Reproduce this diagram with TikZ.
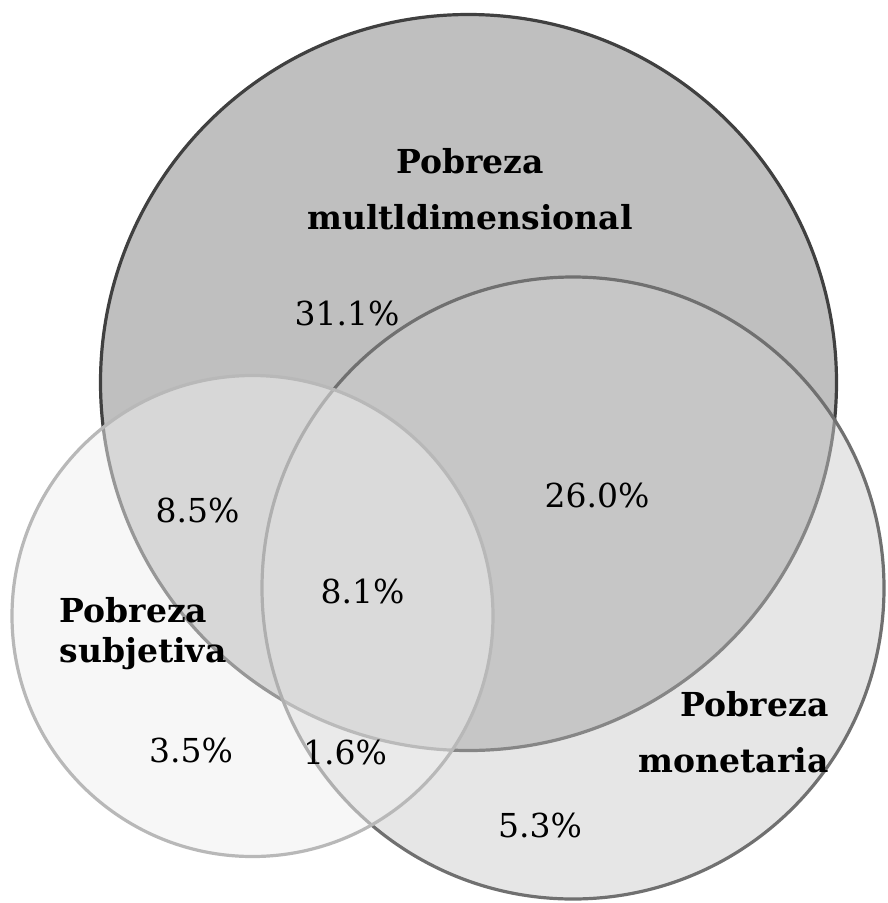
\documentclass[tikz,border=0pt]{standalone}
\usepackage{fontspec}
\setmainfont{DejaVu Serif}
\usetikzlibrary{positioning}

\definecolor{multfill}{RGB}{191,191,191}
\definecolor{multline}{RGB}{64,64,64}
\definecolor{monfill}{RGB}{205,205,205}
\definecolor{monline}{RGB}{112,112,112}
\definecolor{subfill}{RGB}{239,239,239}
\definecolor{subline}{RGB}{184,184,184}

\begin{document}
\begin{tikzpicture}[x=1pt, y=-1pt,
                    line width=3.2pt,
                    set node/.style={circle,draw,inner sep=0pt},
                    name node/.style={inner sep=0pt,font=\fontsize{33}{56}\selectfont\bfseries},
                    pct node/.style={inner sep=0pt,anchor=base,font=\fontsize{33}{40}\selectfont}]

  \useasboundingbox (0,0) rectangle (887,903);

  % the three sets
  \node[set node,fill=multfill,draw=multline,minimum size=736pt] (multi) at (468.5,382.5) {};
  \node[set node,fill=monfill,fill opacity=0.5,draw=monline,minimum size=622pt] (monet) at (573,588) {};
  \node[set node,fill=subfill,fill opacity=0.5,draw=subline,minimum size=481pt] (subj) at (252.5,616) {};

  % set names
  \node[name node,align=center] (multiname) at (470,189.5) {Pobreza\\multldimensional};
  \node[name node,align=right,anchor=east] (monetname) at (830,732.5) {Pobreza\\monetaria};
  \node[name node,align=left,anchor=west,font=\fontsize{33}{40}\selectfont\bfseries] (subjname) at (58,633.5) {Pobreza\\subjetiva};

  % shares
  \node[pct node] (p311) at (347,325) {31.1\%};
  \node[pct node] (p260) at (597,507) {26.0\%};
  \node[pct node] (p85) at (197.5,522) {8.5\%};
  \node[pct node] (p81) at (362.5,603) {8.1\%};
  \node[pct node] (p35) at (191,762) {3.5\%};
  \node[pct node] (p16) at (345,764) {1.6\%};
  \node[pct node] (p53) at (540,837) {5.3\%};

\end{tikzpicture}
\end{document}
